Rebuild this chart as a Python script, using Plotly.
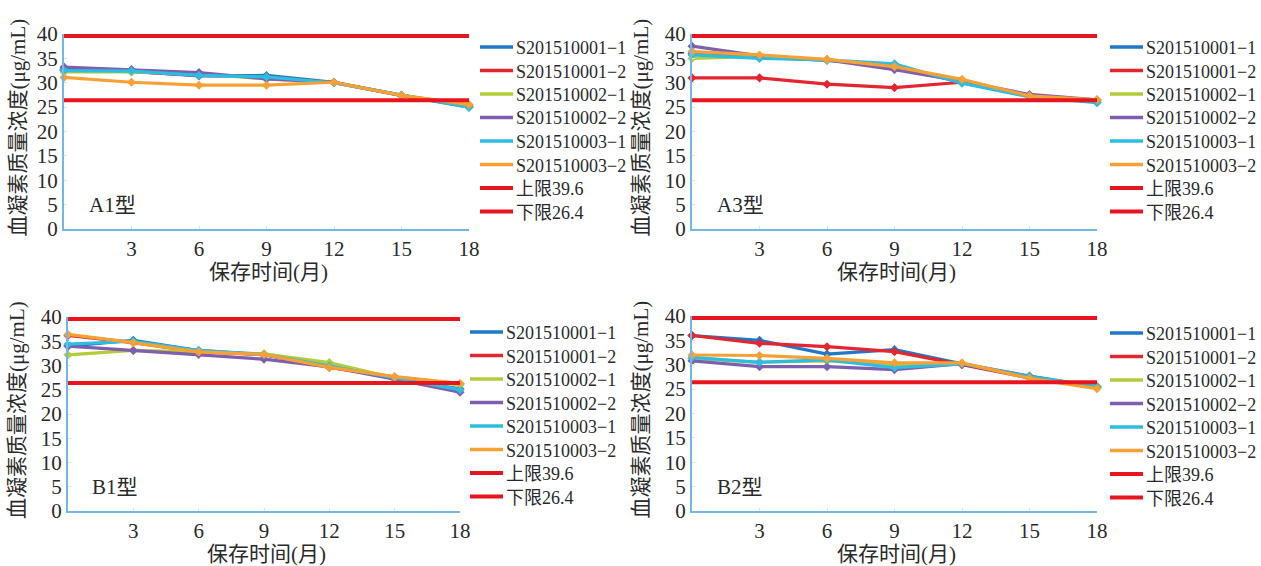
import plotly.graph_objects as go

months = [0, 3, 6, 9, 12, 15, 18]
series_names = ["S201510001−1", "S201510001−2", "S201510002−1",
                "S201510002−2", "S201510003−1", "S201510003−2"]
series_colors = ["#1f78c8", "#e3262f", "#b3cc3a", "#7e5fae", "#2cbde3", "#f7a034"]
limit_names = ["上限39.6", "下限26.4"]
upper_limit = 39.6
lower_limit = 26.4
limit_color = "#e8141e"

# Panel A1
a1_s1_1 = [32.7, 32.4, 31.4, 31.5, 30.1, 27.4, 25.0]
a1_s1_2 = [32.6, 32.3, 31.5, 31.2, 30.0, 27.4, 25.2]
a1_s2_1 = [32.2, 32.2, 31.8, 30.8, 30.0, 27.4, 25.5]
a1_s2_2 = [33.2, 32.7, 32.1, 30.8, 30.1, 27.4, 25.2]
a1_s3_1 = [32.5, 32.4, 31.5, 31.2, 30.0, 27.5, 25.0]
a1_s3_2 = [31.1, 30.1, 29.5, 29.5, 30.1, 27.4, 25.5]

# Panel A3
a3_s1_1 = [36.0, 35.3, 34.6, 33.5, 30.0, 27.3, 26.0]
a3_s1_2 = [31.0, 31.0, 29.7, 29.0, 30.1, 27.3, 26.3]
a3_s2_1 = [35.0, 35.4, 34.7, 33.3, 30.3, 27.3, 26.3]
a3_s2_2 = [37.5, 35.5, 34.7, 32.7, 30.3, 27.6, 26.5]
a3_s3_1 = [35.7, 35.0, 34.7, 33.9, 29.9, 27.1, 25.9]
a3_s3_2 = [36.4, 35.7, 34.8, 33.3, 30.7, 27.3, 26.5]

# Panel B1
b1_s1_1 = [34.0, 35.2, 33.1, 32.2, 29.9, 27.3, 25.2]
b1_s1_2 = [36.2, 34.7, 32.8, 32.3, 29.6, 27.6, 26.2]
b1_s2_1 = [32.2, 33.1, 32.8, 32.4, 30.6, 27.4, 26.0]
b1_s2_2 = [34.0, 33.1, 32.3, 31.3, 29.7, 27.2, 24.5]
b1_s3_1 = [34.4, 35.0, 33.1, 32.3, 29.9, 27.4, 25.0]
b1_s3_2 = [36.4, 34.7, 32.8, 32.3, 29.6, 27.7, 26.3]

# Panel B2
b2_s1_1 = [36.0, 35.0, 32.2, 33.1, 30.2, 27.7, 25.5]
b2_s1_2 = [36.0, 34.4, 33.7, 32.7, 30.0, 27.3, 25.5]
b2_s2_1 = [31.3, 30.5, 30.8, 30.0, 30.3, 27.5, 25.5]
b2_s2_2 = [30.8, 29.6, 29.6, 29.0, 30.2, 27.5, 25.3]
b2_s3_1 = [31.5, 30.5, 31.0, 29.4, 30.2, 27.5, 25.5]
b2_s3_2 = [32.0, 31.9, 31.3, 30.4, 30.4, 27.2, 25.1]

panel_labels = ["A1型", "A3型", "B1型", "B2型"]
panel_data = [
    [a1_s1_1, a1_s1_2, a1_s2_1, a1_s2_2, a1_s3_1, a1_s3_2],
    [a3_s1_1, a3_s1_2, a3_s2_1, a3_s2_2, a3_s3_1, a3_s3_2],
    [b1_s1_1, b1_s1_2, b1_s2_1, b1_s2_2, b1_s3_1, b1_s3_2],
    [b2_s1_1, b2_s1_2, b2_s2_1, b2_s2_2, b2_s3_1, b2_s3_2],
]
x_ticks = [3, 6, 9, 12, 15, 18]
y_ticks = [0, 5, 10, 15, 20, 25, 30, 35, 40]
x_title = "保存时间(月)"
y_title = "血凝素质量浓度(μg/mL)"

W, H = 1261, 566
FONT = "Liberation Serif, Noto Sans CJK SC, serif"
TXT = "#2a2a2a"
AXIS_COLOR = "#74b6e6"

# pixel boxes: (left, right, bottom, top)
boxes = [(64, 469, 229, 34), (692, 1097, 229, 34),
         (68, 460, 511, 317), (692, 1097, 511, 316)]
# legend: (line x0, first row y)
legend_pos = [(480, 47), (1110, 47), (470, 332), (1110, 333)]
ytitle_x = [17, 640, 17, 640]
xtitle_y = [272, 272, 554, 554]
ROW = 23.5
LINE_LEN = 33


def px(x):
    return x / W


def py(y):
    return 1 - y / H


fig = go.Figure()
layout = {}
for i, (data, box) in enumerate(zip(panel_data, boxes)):
    n = "" if i == 0 else str(i + 1)
    xa, ya = "x" + n, "y" + n
    for name, color, vals in zip(series_names, series_colors, data):
        fig.add_trace(go.Scatter(
            x=months, y=vals, mode="lines+markers", xaxis=xa, yaxis=ya,
            line=dict(color=color, width=3.2),
            marker=dict(color=color, size=7, symbol="diamond"),
            showlegend=False, name=name, cliponaxis=False))
    for name, val in zip(limit_names, [upper_limit, lower_limit]):
        fig.add_trace(go.Scatter(
            x=[months[0], months[-1]], y=[val, val], mode="lines",
            xaxis=xa, yaxis=ya, line=dict(color=limit_color, width=4),
            showlegend=False, name=name))
    l, r, b, t = box
    layout["xaxis" + n] = dict(
        domain=[px(l), px(r)], range=[0, 18], anchor=ya, automargin=False,
        tickvals=x_ticks, showline=True, linecolor=AXIS_COLOR, linewidth=2,
        ticks="inside", ticklen=3, tickcolor="#cfe4f4", showgrid=False,
        zeroline=False, tickfont=dict(family=FONT, size=21, color=TXT))
    layout["yaxis" + n] = dict(
        domain=[py(b), py(t)], range=[0, 40], anchor=xa, automargin=False,
        tickvals=y_ticks, showline=True, linecolor=AXIS_COLOR, linewidth=2,
        ticks="inside", ticklen=3, tickcolor="#cfe4f4", showgrid=False,
        zeroline=False, tickfont=dict(family=FONT, size=21, color=TXT))
    # axis titles
    fig.add_annotation(x=px(ytitle_x[i]), y=py((b + t) / 2 - 4), xref="paper",
                       yref="paper", text=y_title, textangle=-90,
                       showarrow=False, xanchor="center", yanchor="middle",
                       font=dict(family=FONT, size=21, color=TXT))
    fig.add_annotation(x=px((l + r) / 2 + 2), y=py(xtitle_y[i]), xref="paper",
                       yref="paper", text=x_title, showarrow=False,
                       xanchor="center", yanchor="middle",
                       font=dict(family=FONT, size=21, color=TXT))
    # panel label
    fig.add_annotation(x=1.0, y=5, xref=xa, yref=ya, text=panel_labels[i],
                       showarrow=False, xanchor="left", yanchor="middle",
                       font=dict(family=FONT, size=21, color=TXT))
    # legend
    lx, ly = legend_pos[i]
    for k, (name, color) in enumerate(zip(series_names + limit_names,
                                          series_colors + [limit_color] * 2)):
        yy = ly + k * ROW
        fig.add_shape(type="line", xref="paper", yref="paper",
                      x0=px(lx), x1=px(lx + LINE_LEN), y0=py(yy), y1=py(yy),
                      line=dict(color=color, width=4 if k >= 6 else 3.5))
        fig.add_annotation(x=px(lx + LINE_LEN + 1), y=py(yy + 1), xref="paper",
                           yref="paper", text=name, showarrow=False,
                           xanchor="left", yanchor="middle",
                           font=dict(family=FONT, size=18, color=TXT))

fig.update_layout(width=W, height=H,
                  margin=dict(l=0, r=0, t=0, b=0, autoexpand=False),
                  paper_bgcolor="white", plot_bgcolor="white",
                  showlegend=False, font=dict(family=FONT), **layout)
fig.write_html(
    "out.html",
    config={"displayModeBar": False},
    post_script="document.body.style.margin='0';document.body.style.padding='0';"
                "document.body.style.overflow='hidden';")
